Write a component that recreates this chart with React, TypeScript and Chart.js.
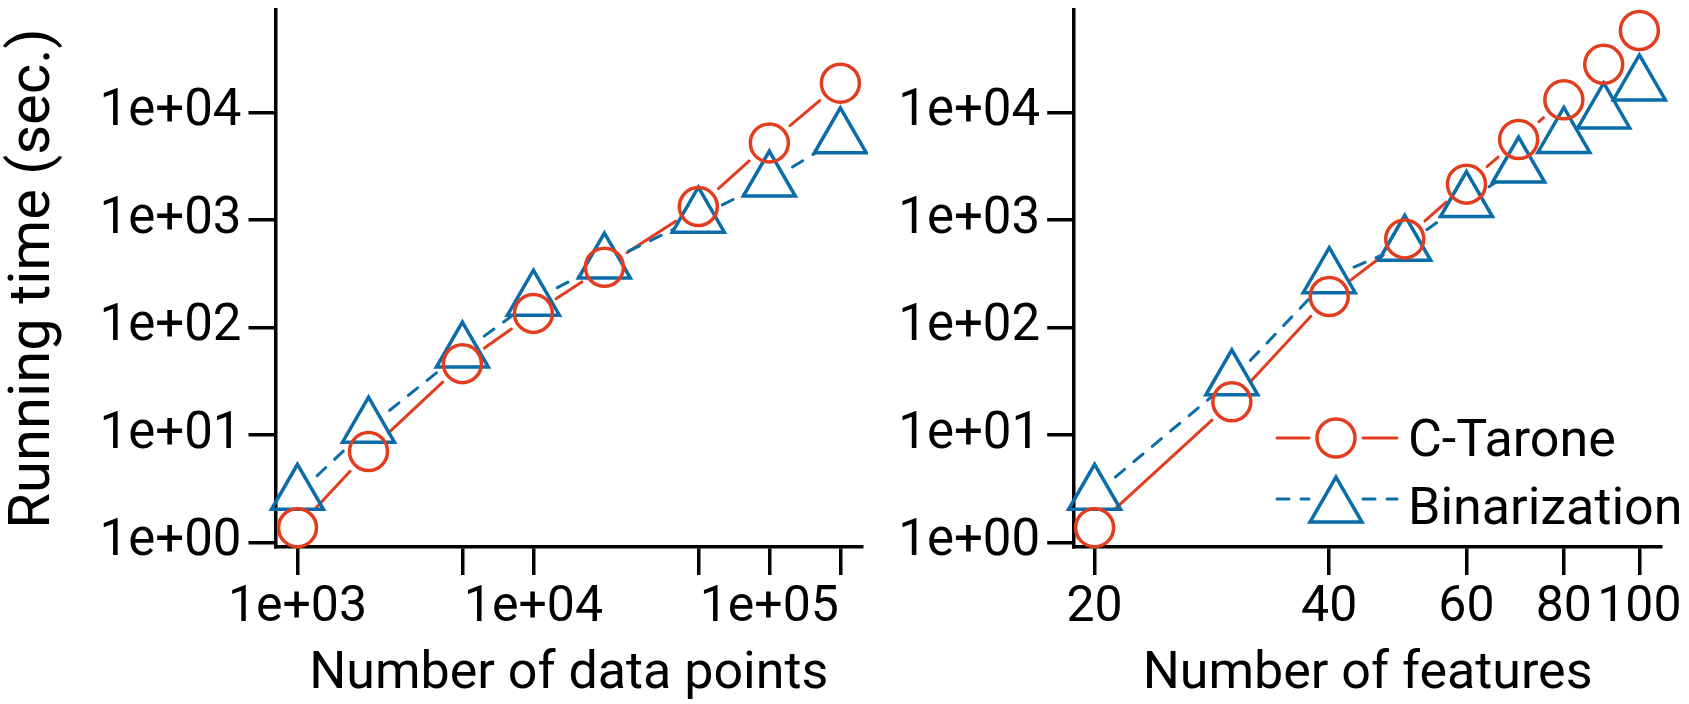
import React, { useEffect, useRef } from "react";
import { Chart, registerables } from "chart.js";

Chart.register(...registerables);

// ---- Data ----
const seriesNames = ["C-Tarone", "Binarization"];

const dataPointsX = [1000, 2000, 5000, 10000, 20000, 50000, 100000, 200000];
const dataPointsCTarone = [1.37, 7.0, 46, 135, 363, 1330, 5200, 18700];
const dataPointsBinarization = [2.8, 11.8, 59, 179, 397, 1060, 2300, 5800];

const featuresX = [20, 30, 40, 50, 60, 70, 80, 90, 100];
const featuresCTarone = [1.37, 20.3, 194, 666, 2150, 5600, 13100, 28000, 57800];
const featuresBinarization = [2.8, 32.5, 290, 580, 1480, 3100, 5850, 9900, 18000];

const yTicks = [1, 10, 100, 1000, 10000];
const yTickLabels = ["1e+00", "1e+01", "1e+02", "1e+03", "1e+04"];

const dataPointsTicks = [1000, 5000, 10000, 50000, 100000, 200000];
const dataPointsTickLabels = ["1e+03", "", "1e+04", "", "1e+05", ""];

const featuresTicks = [20, 40, 60, 80, 100];
const featuresTickLabels = ["20", "40", "60", "80", "100"];

const yTitle = "Running time (sec.)";
const leftXTitle = "Number of data points";
const rightXTitle = "Number of features";

// ---- Styles ----
const RED = "#E23D1E";
const BLUE = "#0A6CA8";
const FONT = "Roboto";
const WEIGHT = 400;
const GAP = 27;

const gappedLines = {
  id: "gappedLines",
  beforeDatasetsDraw(chart: any) {
    const ctx = chart.ctx;
    chart.data.datasets.forEach((ds: any, i: number) => {
      const pts = chart.getDatasetMeta(i).data;
      ctx.save();
      ctx.strokeStyle = ds.borderColor;
      ctx.lineWidth = 3;
      ctx.lineCap = "round";
      for (let k = 0; k < pts.length - 1; k++) {
        const a = pts[k];
        const b = pts[k + 1];
        const dx = b.x - a.x;
        const dy = b.y - a.y;
        const len = Math.hypot(dx, dy);
        if (len <= 2 * GAP) continue;
        const ux = dx / len;
        const uy = dy / len;
        ctx.setLineDash(ds.borderDash || []);
        ctx.beginPath();
        ctx.moveTo(a.x + ux * GAP, a.y + uy * GAP);
        ctx.lineTo(b.x - ux * GAP, b.y - uy * GAP);
        ctx.stroke();
      }
      ctx.restore();
    });
  },
};

const legendPlugin = {
  id: "customLegend",
  afterDraw(chart: any) {
    const ctx = chart.ctx;
    const area = chart.chartArea;
    const x0 = area.right - 384;
    const x1 = area.right - 264;
    const mx = area.right - 325;
    const textX = area.right - 253;
    const rows = [
      { y: area.top + 428, py: area.top + 428, color: RED, dash: [] as number[], style: "circle", r: 19, base: area.top + 445.6 },
      { y: area.top + 489, py: area.top + 497, color: BLUE, dash: [12, 12], style: "triangle", r: 30, base: area.top + 514.4 },
    ];
    const ds = chart.data.datasets;
    rows.forEach((row, i) => {
      ctx.save();
      ctx.strokeStyle = row.color;
      ctx.lineWidth = 3;
      ctx.lineCap = "round";
      ctx.setLineDash(row.dash);
      ctx.beginPath();
      ctx.moveTo(x0, row.y);
      ctx.lineTo(mx - GAP, row.y);
      ctx.stroke();
      ctx.beginPath();
      ctx.moveTo(mx + GAP, row.y);
      ctx.lineTo(x1, row.y);
      ctx.stroke();
      ctx.setLineDash([]);
      ctx.lineWidth = 3.5;
      ctx.beginPath();
      if (row.style === "circle") {
        ctx.arc(mx, row.py, row.r, 0, Math.PI * 2);
      } else {
        let rad = 0;
        ctx.moveTo(mx + Math.sin(rad) * row.r, row.py - Math.cos(rad) * row.r);
        rad += (2 * Math.PI) / 3;
        ctx.lineTo(mx + Math.sin(rad) * row.r, row.py - Math.cos(rad) * row.r);
        rad += (2 * Math.PI) / 3;
        ctx.lineTo(mx + Math.sin(rad) * row.r, row.py - Math.cos(rad) * row.r);
        ctx.closePath();
      }
      ctx.stroke();
      ctx.fillStyle = "#000";
      ctx.font = `${WEIGHT} 52px ${FONT}`;
      ctx.textAlign = "left";
      ctx.textBaseline = "alphabetic";
      ctx.fillText(ds[i].label, textX, row.base);
      ctx.restore();
    });
  },
};

function makeConfig(p: {
  xs: number[];
  ct: number[];
  bz: number[];
  xMin: number;
  xMax: number;
  xTicks: number[];
  xLabels: string[];
  xTitle: string;
  yWidth: number;
  rightPad: number;
  showYTitle: boolean;
  legend: boolean;
}) {
  const axisBase = {
    grid: {
      display: true,
      drawOnChartArea: false,
      drawTicks: true,
      tickLength: 28,
      tickWidth: 3.5,
      tickColor: "#000",
      color: "#000",
      lineWidth: 3.5,
    },
    border: { display: true, color: "#000", width: 3.5 },
  };
  return {
    type: "scatter",
    data: {
      datasets: [
        {
          label: seriesNames[0],
          data: p.xs.map((x, i) => ({ x, y: p.ct[i] })),
          pointStyle: "circle",
          pointRadius: 19,
          pointBorderWidth: 3.5,
          pointBorderColor: RED,
          pointBackgroundColor: "rgba(0,0,0,0)",
          borderColor: RED,
          borderDash: [],
          showLine: false,
          clip: false,
        },
        {
          label: seriesNames[1],
          data: p.xs.map((x, i) => ({ x, y: p.bz[i] })),
          pointStyle: "triangle",
          pointRadius: 30,
          pointBorderWidth: 3.5,
          pointBorderColor: BLUE,
          pointBackgroundColor: "rgba(0,0,0,0)",
          borderColor: BLUE,
          borderDash: [12, 12],
          showLine: false,
          clip: false,
        },
      ],
    },
    options: {
      animation: false,
      responsive: false,
      maintainAspectRatio: false,
      events: [],
      layout: { autoPadding: false, padding: { top: 10, right: p.rightPad, left: 0, bottom: 0 } },
      plugins: { legend: { display: false }, tooltip: { enabled: false } },
      scales: {
        x: {
          ...axisBase,
          type: "logarithmic",
          position: "bottom",
          min: p.xMin,
          max: p.xMax,
          bounds: "data",
          afterBuildTicks: (s: any) => {
            s.ticks = p.xTicks.map((v) => ({ value: v }));
          },
          afterFit: (s: any) => {
            s.height = 157;
            s.paddingLeft = 0;
            s.paddingRight = 0;
            s.paddingTop = 0;
            s.paddingBottom = 0;
          },
          ticks: {
            autoSkip: false,
            maxRotation: 0,
            minRotation: 0,
            padding: 3,
            color: "#000",
            font: { family: FONT, size: 50, weight: WEIGHT },
            callback: (_v: any, i: number) => p.xLabels[i],
          },
          title: {
            display: true,
            text: p.xTitle,
            color: "#000",
            font: { family: FONT, size: 52, weight: WEIGHT, lineHeight: 1.1 },
            padding: { top: 0, bottom: 0 },
          },
        },
        y: {
          ...axisBase,
          type: "logarithmic",
          position: "left",
          min: 0.906,
          max: 89700,
          bounds: "data",
          grid: { ...axisBase.grid, tickLength: 27 },
          afterBuildTicks: (s: any) => {
            s.ticks = yTicks.map((v) => ({ value: v }));
          },
          afterFit: (s: any) => {
            s.width = p.yWidth;
            s.paddingLeft = 0;
            s.paddingRight = 0;
            s.paddingTop = 0;
            s.paddingBottom = 0;
          },
          ticks: {
            autoSkip: false,
            padding: 7,
            color: "#000",
            font: { family: FONT, size: 51, weight: WEIGHT },
            callback: (_v: any, i: number) => yTickLabels[i],
          },
          title: {
            display: p.showYTitle,
            text: yTitle,
            color: "#000",
            font: { family: FONT, size: 58, weight: WEIGHT, lineHeight: 1.1 },
            padding: { top: 3, bottom: 0 },
          },
        },
      },
    },
    plugins: p.legend ? [gappedLines, legendPlugin] : [gappedLines],
  } as any;
}

export default function App() {
  const leftRef = useRef<HTMLCanvasElement>(null);
  const rightRef = useRef<HTMLCanvasElement>(null);

  useEffect(() => {
    const left = new Chart(
      leftRef.current as HTMLCanvasElement,
      makeConfig({
        xs: dataPointsX,
        ct: dataPointsCTarone,
        bz: dataPointsBinarization,
        xMin: 807,
        xMax: 247000,
        xTicks: dataPointsTicks,
        xLabels: dataPointsTickLabels,
        xTitle: leftXTitle,
        yWidth: 275.5,
        rightPad: 6,
        showYTitle: true,
        legend: false,
      })
    );
    const right = new Chart(
      rightRef.current as HTMLCanvasElement,
      makeConfig({
        xs: featuresX,
        ct: featuresCTarone,
        bz: featuresBinarization,
        xMin: 18.83,
        xMax: 106.6,
        xTicks: featuresTicks,
        xLabels: featuresTickLabels,
        xTitle: rightXTitle,
        yWidth: 206.2,
        rightPad: 28,
        showYTitle: false,
        legend: true,
      })
    );
    return () => {
      left.destroy();
      right.destroy();
    };
  }, []);

  return (
    <div style={{ position: "absolute", left: 0, top: 0, width: 1689, height: 704, background: "#fff" }}>
      <canvas
        ref={leftRef}
        width={868}
        height={704}
        style={{ position: "absolute", left: 0, top: 0, width: 868, height: 704 }}
      />
      <canvas
        ref={rightRef}
        width={821}
        height={704}
        style={{ position: "absolute", left: 868, top: 0, width: 821, height: 704 }}
      />
    </div>
  );
}
